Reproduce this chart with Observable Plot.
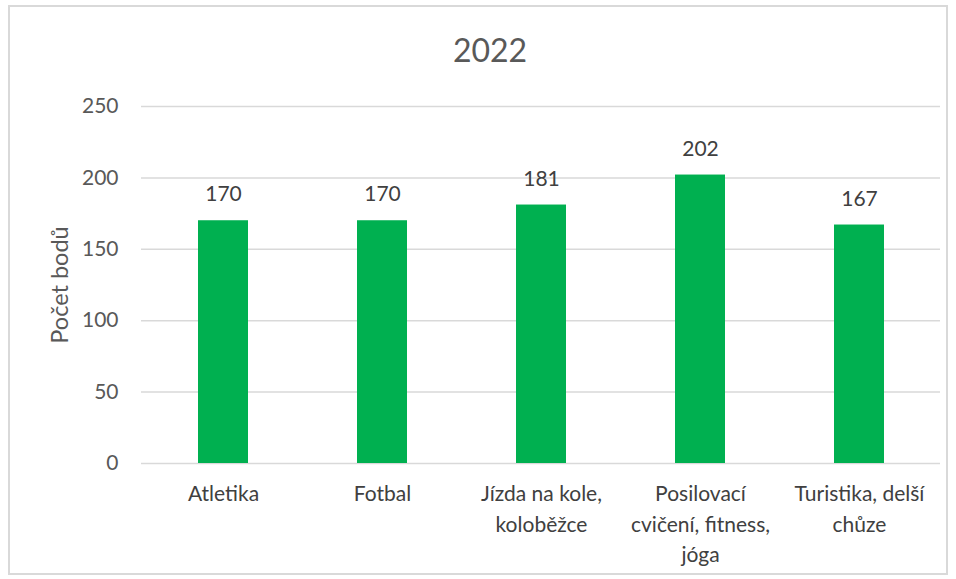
<!DOCTYPE html>
<html>
<head>
<meta charset="utf-8">
<script src="https://cdn.jsdelivr.net/npm/d3@7"></script>
<script src="https://cdn.jsdelivr.net/npm/@observablehq/plot@0.6"></script>
<style>
  html, body { margin: 0; padding: 0; background: #fff; }
  #wrap { position: relative; width: 956px; height: 579px; overflow: hidden; font-family: Lato, "Open Sans", sans-serif; }
  #frame { position: absolute; left: 8px; top: 5px; width: 940px; height: 570px; border: 2px solid #d9d9d9; box-sizing: border-box; }
  #title { position: absolute; left: 0; width: 980px; top: 30px; text-align: center; font-size: 32px; color: #595959; line-height: 40px; }
  #chart { position: absolute; left: 0; top: 0; }
</style>
</head>
<body>
<div id="wrap">
  <div id="frame"></div>
  <div id="title">2022</div>
  <div id="chart"></div>
</div>
<script>
const categories = ["Atletika", "Fotbal", "Jízda na kole, koloběžce", "Posilovací cvičení, fitness, jóga", "Turistika, delší chůze"];
const tickLabels = ["Atletika", "Fotbal", "Jízda na kole,\nkoloběžce", "Posilovací\ncvičení, fitness,\njóga", "Turistika, delší\nchůze"];
const values = [170, 170, 181, 202, 167];
const yTicks = [0, 50, 100, 150, 200, 250];

const data = categories.map((c, i) => ({category: c, value: values[i]}));
const labelOf = new Map(categories.map((c, i) => [c, tickLabels[i]]));

const chart = Plot.plot({
  width: 956,
  height: 579,
  marginTop: 106,
  marginBottom: 116,
  marginLeft: 141,
  marginRight: 16,
  style: {fontFamily: "Lato, 'Open Sans', sans-serif", background: "transparent", overflow: "visible"},
  x: {domain: categories, paddingInner: 0.686, paddingOuter: 0.343, label: null},
  y: {domain: [0, 250], label: null},
  marks: [
    Plot.gridY(yTicks, {stroke: "#d9d9d9", strokeOpacity: 1, strokeWidth: 1.5}),
    Plot.barY(data, {x: "category", y: "value", fill: "#00B050"}),
    Plot.text(data, {x: "category", y: "value", text: d => String(d.value), dy: -26, fontSize: 21, fill: "#404040"}),
    Plot.axisY({ticks: yTicks, tickSize: 0, tickPadding: 23, fontSize: 21, color: "#595959", label: null}),
    Plot.axisX({tickSize: 0, tickPadding: 16, fontSize: 21, color: "#404040", lineHeight: 1.45, tickFormat: d => labelOf.get(d), label: null}),
    Plot.text(["Počet bodů"], {frameAnchor: "left", dx: -81, rotate: -90, textAnchor: "middle", fontSize: 23.5, fill: "#595959"})
  ]
});
document.getElementById("chart").appendChild(chart);
</script>
</body>
</html>
